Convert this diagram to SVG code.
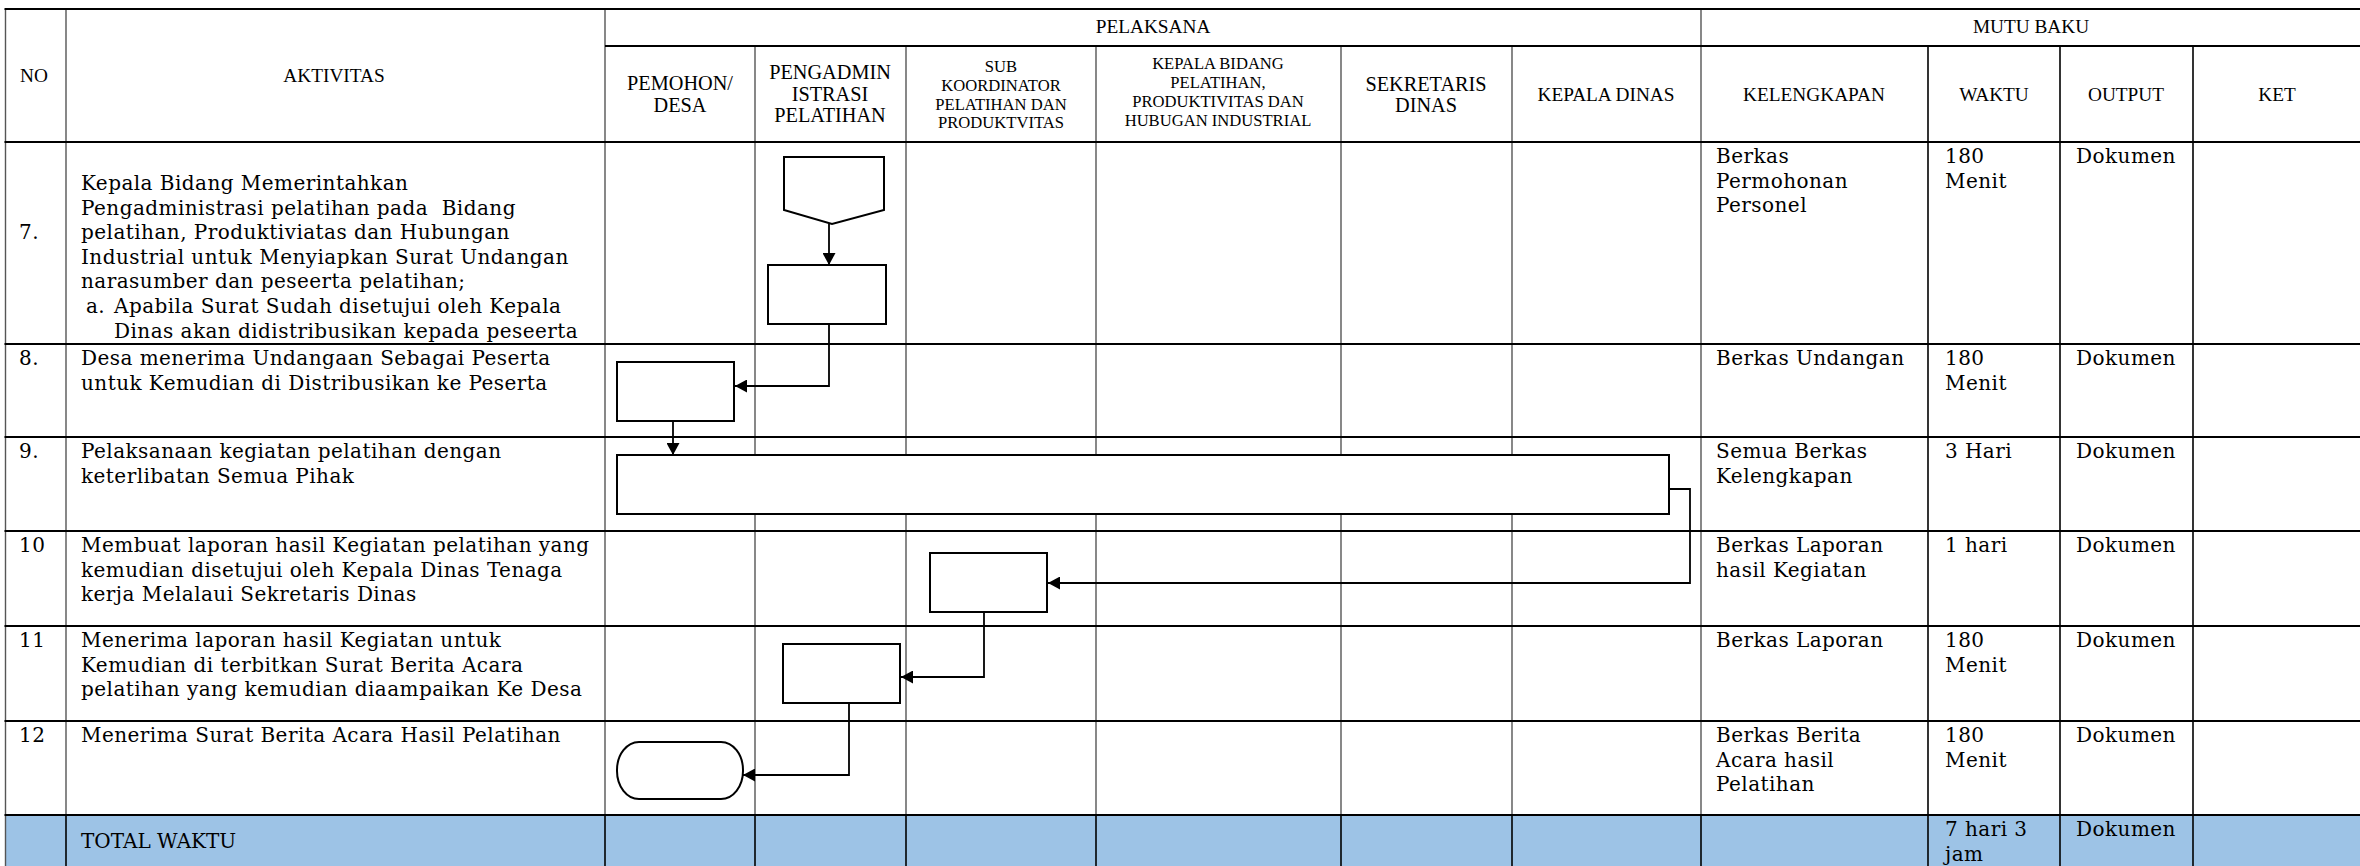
<svg xmlns="http://www.w3.org/2000/svg" width="2360" height="866" viewBox="0 0 2360 866">
<style>
.bg{fill:#ffffff}
.blue{fill:#9DC3E6}
.hl{stroke:#000;stroke-width:2.2}
.vg{stroke:#555;stroke-width:1.4}
.vb{stroke:#000;stroke-width:1.6}
.h{font-family:"Liberation Serif",serif;font-size:19.3px;fill:#000;text-anchor:middle}
.hl2{font-family:"Liberation Serif",serif;font-size:20.3px;fill:#000;text-anchor:middle}
.hs{font-family:"Liberation Serif",serif;font-size:16.6px;fill:#000;text-anchor:middle}
.b{font-family:"DejaVu Serif",serif;font-size:20px;letter-spacing:0.45px;fill:#000}
.shape{fill:#fff;stroke:#000;stroke-width:2}
.conn{fill:none;stroke:#000;stroke-width:1.8}
</style>
<defs>
<marker id="ah" markerUnits="userSpaceOnUse" markerWidth="13" markerHeight="13" refX="12" refY="6.5" orient="auto">
<path d="M0,0 L12,6.5 L0,13 z" fill="#000"/>
</marker>
</defs>
<rect class="bg" x="0" y="0" width="2360" height="866"/>
<rect class="blue" x="6" y="815" width="2356" height="51"/>
<g id="table">
<line class="vg" x1="5.5" y1="9" x2="5.5" y2="866"/>
<line class="vg" x1="66" y1="9" x2="66" y2="815"/>
<line class="vg" x1="605" y1="9" x2="605" y2="815"/>
<line class="vg" x1="755" y1="46" x2="755" y2="815"/>
<line class="vg" x1="906" y1="46" x2="906" y2="815"/>
<line class="vg" x1="1096" y1="46" x2="1096" y2="815"/>
<line class="vg" x1="1341" y1="46" x2="1341" y2="815"/>
<line class="vg" x1="1512" y1="46" x2="1512" y2="815"/>
<line class="vg" x1="1701" y1="9" x2="1701" y2="815"/>
<line class="vb" x1="1928" y1="46" x2="1928" y2="815"/>
<line class="vb" x1="2060" y1="46" x2="2060" y2="815"/>
<line class="vb" x1="2193" y1="46" x2="2193" y2="815"/>
<line class="vb" x1="66" y1="815" x2="66" y2="866"/>
<line class="vb" x1="605" y1="815" x2="605" y2="866"/>
<line class="vb" x1="755" y1="815" x2="755" y2="866"/>
<line class="vb" x1="906" y1="815" x2="906" y2="866"/>
<line class="vb" x1="1096" y1="815" x2="1096" y2="866"/>
<line class="vb" x1="1341" y1="815" x2="1341" y2="866"/>
<line class="vb" x1="1512" y1="815" x2="1512" y2="866"/>
<line class="vb" x1="1701" y1="815" x2="1701" y2="866"/>
<line class="vb" x1="1928" y1="815" x2="1928" y2="866"/>
<line class="vb" x1="2060" y1="815" x2="2060" y2="866"/>
<line class="vb" x1="2193" y1="815" x2="2193" y2="866"/>
<line class="hl" x1="4.5" y1="9" x2="2362" y2="9"/>
<line class="hl" x1="605" y1="46" x2="2362" y2="46"/>
<line class="hl" x1="4.5" y1="142" x2="2362" y2="142"/>
<line class="hl" x1="4.5" y1="344" x2="2362" y2="344"/>
<line class="hl" x1="4.5" y1="437" x2="2362" y2="437"/>
<line class="hl" x1="4.5" y1="531" x2="2362" y2="531"/>
<line class="hl" x1="4.5" y1="626" x2="2362" y2="626"/>
<line class="hl" x1="4.5" y1="721" x2="2362" y2="721"/>
<line class="hl" x1="4.5" y1="815" x2="2362" y2="815"/>
</g>
<g id="header">
<text class="h" x="34" y="82">NO</text>
<text class="h" x="334" y="82">AKTIVITAS</text>
<text class="h" x="1153" y="33">PELAKSANA</text>
<text class="h" x="2031" y="33">MUTU BAKU</text>
<text class="hl2" x="680" y="90">PEMOHON/</text>
<text class="hl2" x="680" y="111.5">DESA</text>
<text class="hl2" x="830" y="79">PENGADMIN</text>
<text class="hl2" x="830" y="100.5">ISTRASI</text>
<text class="hl2" x="830" y="122">PELATIHAN</text>
<text class="hs" x="1001" y="72">SUB</text>
<text class="hs" x="1001" y="91">KOORDINATOR</text>
<text class="hs" x="1001" y="110">PELATIHAN DAN</text>
<text class="hs" x="1001" y="128">PRODUKTVITAS</text>
<text class="hs" x="1218" y="69">KEPALA BIDANG</text>
<text class="hs" x="1218" y="88">PELATIHAN,</text>
<text class="hs" x="1218" y="107">PRODUKTIVITAS DAN</text>
<text class="hs" x="1218" y="126">HUBUGAN INDUSTRIAL</text>
<text class="hl2" x="1426" y="90.5">SEKRETARIS</text>
<text class="hl2" x="1426" y="111.5">DINAS</text>
<text class="h" x="1606" y="100.5">KEPALA DINAS</text>
<text class="h" x="1814" y="100.5">KELENGKAPAN</text>
<text class="h" x="1994" y="100.5">WAKTU</text>
<text class="h" x="2126" y="100.5">OUTPUT</text>
<text class="h" x="2277" y="100.5">KET</text>
</g>
<g id="rows">
<text class="b" x="19" y="239">7.</text>
<text class="b" x="81" y="190" xml:space="preserve"><tspan x="81" y="190">Kepala Bidang Memerintahkan</tspan><tspan x="81" y="214.6">Pengadministrasi pelatihan pada  Bidang</tspan><tspan x="81" y="239.2">pelatihan, Produktiviatas dan Hubungan</tspan><tspan x="81" y="263.8">Industrial untuk Menyiapkan Surat Undangan</tspan><tspan x="81" y="288.4">narasumber dan peseerta pelatihan;</tspan><tspan x="86" y="313">a.</tspan><tspan x="114" y="313">Apabila Surat Sudah disetujui oleh Kepala</tspan><tspan x="114" y="337.6">Dinas akan didistribusikan kepada peseerta</tspan></text>
<text class="b" x="1716" y="163"><tspan x="1716" y="163">Berkas</tspan><tspan x="1716" y="187.7">Permohonan</tspan><tspan x="1716" y="212.4">Personel</tspan></text>
<text class="b" x="1945" y="163"><tspan x="1945" y="163">180</tspan><tspan x="1945" y="187.7">Menit</tspan></text>
<text class="b" x="2076" y="163">Dokumen</text>

<text class="b" x="19" y="365">8.</text>
<text class="b" x="81" y="365"><tspan x="81" y="365">Desa menerima Undangaan Sebagai Peserta</tspan><tspan x="81" y="389.7">untuk Kemudian di Distribusikan ke Peserta</tspan></text>
<text class="b" x="1716" y="365">Berkas Undangan</text>
<text class="b" x="1945" y="365"><tspan x="1945" y="365">180</tspan><tspan x="1945" y="389.7">Menit</tspan></text>
<text class="b" x="2076" y="365">Dokumen</text>

<text class="b" x="19" y="458">9.</text>
<text class="b" x="81" y="458"><tspan x="81" y="458">Pelaksanaan kegiatan pelatihan dengan</tspan><tspan x="81" y="482.7">keterlibatan Semua Pihak</tspan></text>
<text class="b" x="1716" y="458"><tspan x="1716" y="458">Semua Berkas</tspan><tspan x="1716" y="482.7">Kelengkapan</tspan></text>
<text class="b" x="1945" y="458">3 Hari</text>
<text class="b" x="2076" y="458">Dokumen</text>

<text class="b" x="19" y="552">10</text>
<text class="b" x="81" y="552"><tspan x="81" y="552">Membuat laporan hasil Kegiatan pelatihan yang</tspan><tspan x="81" y="576.7">kemudian disetujui oleh Kepala Dinas Tenaga</tspan><tspan x="81" y="601.4">kerja Melalaui Sekretaris Dinas</tspan></text>
<text class="b" x="1716" y="552"><tspan x="1716" y="552">Berkas Laporan</tspan><tspan x="1716" y="576.7">hasil Kegiatan</tspan></text>
<text class="b" x="1945" y="552">1 hari</text>
<text class="b" x="2076" y="552">Dokumen</text>

<text class="b" x="19" y="647">11</text>
<text class="b" x="81" y="647"><tspan x="81" y="647">Menerima laporan hasil Kegiatan untuk</tspan><tspan x="81" y="671.7">Kemudian di terbitkan Surat Berita Acara</tspan><tspan x="81" y="696.4">pelatihan yang kemudian diaampaikan Ke Desa</tspan></text>
<text class="b" x="1716" y="647">Berkas Laporan</text>
<text class="b" x="1945" y="647"><tspan x="1945" y="647">180</tspan><tspan x="1945" y="671.7">Menit</tspan></text>
<text class="b" x="2076" y="647">Dokumen</text>

<text class="b" x="19" y="742">12</text>
<text class="b" x="81" y="742">Menerima Surat Berita Acara Hasil Pelatihan</text>
<text class="b" x="1716" y="742"><tspan x="1716" y="742">Berkas Berita</tspan><tspan x="1716" y="766.7">Acara hasil</tspan><tspan x="1716" y="791.4">Pelatihan</tspan></text>
<text class="b" x="1945" y="742"><tspan x="1945" y="742">180</tspan><tspan x="1945" y="766.7">Menit</tspan></text>
<text class="b" x="2076" y="742">Dokumen</text>

<text class="b" x="81" y="848" style="letter-spacing:0">TOTAL WAKTU</text>
<text class="b" x="1945" y="836"><tspan x="1945" y="836">7 hari 3</tspan><tspan x="1945" y="860.7">jam</tspan></text>
<text class="b" x="2076" y="836">Dokumen</text>
</g>
<g id="connectors">
<path class="conn" d="M829,224 L829,265" marker-end="url(#ah)"/>
<path class="conn" d="M829,324 L829,386 L735,386" marker-end="url(#ah)"/>
<path class="conn" d="M673,421 L673,455" marker-end="url(#ah)"/>
<path class="conn" d="M1669,489 L1690,489 L1690,583 L1048,583" marker-end="url(#ah)"/>
<path class="conn" d="M984,612 L984,677 L901,677" marker-end="url(#ah)"/>
<path class="conn" d="M849,703 L849,775 L743,775" marker-end="url(#ah)"/>
</g>
<g id="n7-connector"><path class="shape" d="M784,157 L884,157 L884,210 L832,224 L784,210 Z"/></g>
<g id="n7-process"><rect class="shape" x="768" y="265" width="118" height="59"/></g>
<g id="n8-process"><rect class="shape" x="617" y="362" width="117" height="59"/></g>
<g id="n9-process"><rect class="shape" x="617" y="455" width="1052" height="59"/></g>
<g id="n10-process"><rect class="shape" x="930" y="553" width="117" height="59"/></g>
<g id="n11-process"><rect class="shape" x="783" y="644" width="117" height="59"/></g>
<g id="n12-terminator"><rect class="shape" x="617" y="742" width="126" height="57" rx="22" ry="28"/></g>
</svg>
